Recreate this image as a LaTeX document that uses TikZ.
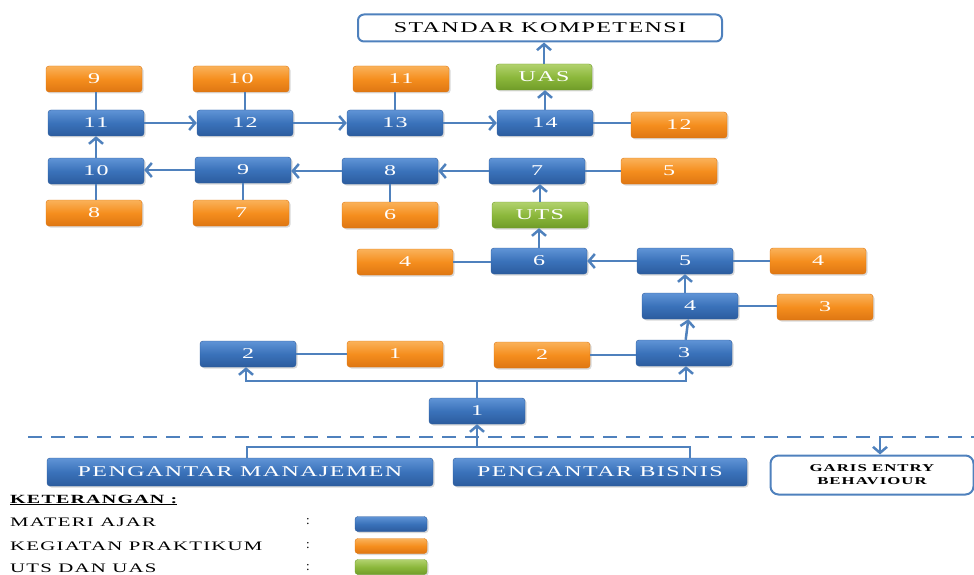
\documentclass[tikz,border=0pt]{standalone}
\usepackage{fontspec}
\setmainfont{Liberation Serif}
\newfontfamily\boxfont[LetterSpace=6]{Liberation Serif}
\usetikzlibrary{arrows.meta,shadows,calc}

\definecolor{materi}{RGB}{58,114,186}
\definecolor{materitop}{RGB}{96,148,214}
\definecolor{materibot}{RGB}{44,92,158}
\definecolor{praktik}{RGB}{245,142,30}
\definecolor{praktiktop}{RGB}{250,178,90}
\definecolor{praktikbot}{RGB}{222,118,18}
\definecolor{ujian}{RGB}{140,184,60}
\definecolor{ujiantop}{RGB}{178,210,110}
\definecolor{ujianbot}{RGB}{112,156,40}
\definecolor{garis}{RGB}{79,129,189}

\newcommand{\lebar}[1]{\scalebox{1.6}[1]{#1}}

\tikzset{
  kotak/.style={rounded corners=3pt, minimum width=96pt, minimum height=26pt,
    inner sep=0pt, text=white, font=\boxfont\fontsize{15}{15}\selectfont,
    drop shadow={opacity=0.3, shadow xshift=1.5pt, shadow yshift=-1.5pt}},
  materibox/.style={kotak, top color=materitop, bottom color=materibot, middle color=materi, draw=materibot},
  praktikbox/.style={kotak, top color=praktiktop, bottom color=praktikbot, middle color=praktik, draw=praktikbot},
  ujianbox/.style={kotak, top color=ujiantop, bottom color=ujianbot, middle color=ujian, draw=ujianbot},
  putih/.style={draw=garis, line width=2pt, fill=white, text=black, inner sep=0pt},
  link/.style={draw=garis, line width=2.5pt},
  panah/.style={link, -{Straight Barb[length=6pt, width=14pt, line width=2.5pt]}},
  legtext/.style={anchor=west, inner sep=0pt, font=\boxfont\fontsize{13}{13}\selectfont}
}

\begin{document}
\begin{tikzpicture}[x=1pt, y=-1pt]
  \useasboundingbox (0,0) rectangle (974,575);

  % tujuan akhir
  \node[putih, rounded corners=6pt, minimum width=364pt, minimum height=27pt,
        font=\boxfont\fontsize{15}{15}\selectfont] (standar) at (540,28) {\lebar{STANDAR KOMPETENSI}};

  % materi ajar
  \node[materibox] (m1) at (477,411) {\lebar{1}};
  \node[materibox] (m2) at (248,354) {\lebar{2}};
  \node[materibox] (m3) at (684,353) {\lebar{3}};
  \node[materibox] (m4) at (690,306) {\lebar{4}};
  \node[materibox] (m5) at (685,261) {\lebar{5}};
  \node[materibox] (m6) at (539,261) {\lebar{6}};
  \node[materibox] (m7) at (537,171) {\lebar{7}};
  \node[materibox] (m8) at (390,171) {\lebar{8}};
  \node[materibox] (m9) at (243,170) {\lebar{9}};
  \node[materibox] (m10) at (96,171) {\lebar{10}};
  \node[materibox] (m11) at (96,123) {\lebar{11}};
  \node[materibox] (m12) at (245,123) {\lebar{12}};
  \node[materibox] (m13) at (395,123) {\lebar{13}};
  \node[materibox] (m14) at (545,123) {\lebar{14}};

  % kegiatan praktikum
  \node[praktikbox] (p1) at (395,354) {\lebar{1}};
  \node[praktikbox] (p2) at (542,355) {\lebar{2}};
  \node[praktikbox] (p3) at (825,307) {\lebar{3}};
  \node[praktikbox] (p4a) at (818,261) {\lebar{4}};
  \node[praktikbox] (p4b) at (405,262) {\lebar{4}};
  \node[praktikbox] (p5) at (669,171) {\lebar{5}};
  \node[praktikbox] (p6) at (390,215) {\lebar{6}};
  \node[praktikbox] (p7) at (241,213) {\lebar{7}};
  \node[praktikbox] (p8) at (94,213) {\lebar{8}};
  \node[praktikbox] (p9) at (94,79) {\lebar{9}};
  \node[praktikbox] (p10) at (241,79) {\lebar{10}};
  \node[praktikbox] (p11) at (401,79) {\lebar{11}};
  \node[praktikbox] (p12) at (679,125) {\lebar{12}};

  % uts dan uas
  \node[ujianbox] (uts) at (540,215) {\lebar{UTS}};
  \node[ujianbox] (uas) at (544,77) {\lebar{UAS}};

  % mata kuliah prasyarat
  \node[materibox, minimum width=386pt, minimum height=28pt] (pm) at (240,472) {\lebar{PENGANTAR MANAJEMEN}};
  \node[materibox, minimum width=294pt, minimum height=28pt] (pb) at (600,472) {\lebar{PENGANTAR BISNIS}};
  \node[putih, rounded corners=8pt, minimum width=203pt, minimum height=39pt, align=center,
        font=\boxfont\fontsize{10.5}{13}\selectfont\bfseries] (entry) at (872,475) {\lebar{GARIS ENTRY}\\\lebar{BEHAVIOUR}};

  % garis entry behaviour
  \draw[link, dash pattern=on 14pt off 9pt] (28,437) -- (974,437);
  \coordinate (batas) at (880,437);
  \draw[panah] (batas) -- (entry.north -| batas);

  % prasyarat ke materi 1
  \coordinate (gabung) at (477,447);
  \draw[link] ($(pm.north)+(7,0)$) |- (gabung) -| ($(pb.north)+(90,0)$);
  \draw[panah] (gabung) -- (m1.south);

  % cabang materi 1
  \coordinate (cabang) at (477,381);
  \draw[link] (m1.north) -- (cabang);
  \draw[panah] (cabang) -| ($(m2.south)+(-2,0)$);
  \draw[panah] (cabang) -| ($(m3.south)+(2,0)$);

  % alur materi
  \draw[panah] (m3) -- (m4);
  \draw[panah] (m4.north -| m5) -- (m5);
  \draw[panah] (m5) -- (m6);
  \draw[panah] (m6) -- (uts.south -| m6);
  \draw[panah] (uts) -- (m7.south -| uts);
  \draw[panah] (m7) -- (m8);
  \draw[panah] (m8.west) -- (m9.east |- m8.west);
  \draw[panah] (m9.west) -- (m10.east |- m9.west);
  \draw[panah] (m10) -- (m11);
  \draw[panah] (m11) -- (m12);
  \draw[panah] (m12) -- (m13);
  \draw[panah] (m13) -- (m14);
  \draw[panah] (m14) -- (uas.south -| m14);
  \draw[panah] (uas) -- (standar.south -| uas);

  % pasangan praktikum
  \draw[link, line width=2pt] (m2) -- (p1);
  \draw[link, line width=2pt] (p2.east) -- (m3.west |- p2.east);
  \draw[link, line width=2pt] (m4.east) -- (p3.west |- m4.east);
  \draw[link, line width=2pt] (m5) -- (p4a);
  \draw[link, line width=2pt] (p4b.east) -- (m6.west |- p4b.east);
  \draw[link, line width=2pt] (m7) -- (p5);
  \draw[link] (m8) -- (p6);
  \draw[link] (m9.south) -- (p7.north -| m9);
  \draw[link] (m10.south) -- (p8.north -| m10);
  \draw[link] (m11.north) -- (p9.south -| m11);
  \draw[link] (m12.north) -- (p10.south -| m12);
  \draw[link] (m13.north) -- (p11.south -| m13);
  \draw[link, line width=2pt] (m14.east) -- (p12.west |- m14.east);

  % keterangan
  \node[legtext, font=\boxfont\fontsize{12.5}{12.5}\selectfont\bfseries] (judul) at (10,500) {\lebar{\underline{KETERANGAN :}}};
  \node[legtext] (lmateri) at (10,522) {\lebar{MATERI AJAR}};
  \node[legtext] (lpraktik) at (10,546) {\lebar{KEGIATAN PRAKTIKUM}};
  \node[legtext] (lujian) at (10,568) {\lebar{UTS DAN UAS}};
  \node[legtext] (c1) at (306,522) {:};
  \node[legtext] (c2) at (306,546) {:};
  \node[legtext] (c3) at (306,568) {:};
  \node[materibox, minimum width=72pt, minimum height=15pt] (kmateri) at (391,524) {};
  \node[praktikbox, minimum width=72pt, minimum height=15pt] (kpraktik) at (391,546) {};
  \node[ujianbox, minimum width=72pt, minimum height=15pt] (kujian) at (391,567) {};
\end{tikzpicture}
\end{document}
